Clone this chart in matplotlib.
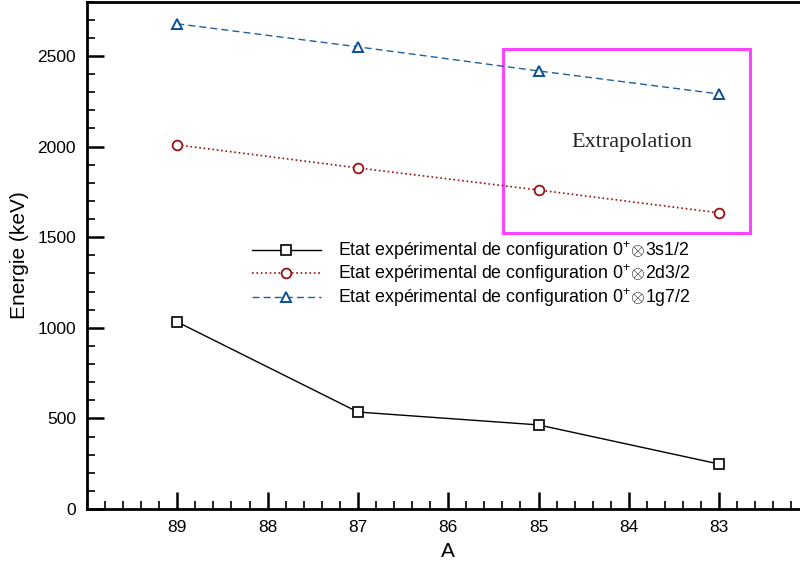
import matplotlib
matplotlib.use("Agg")
import matplotlib.pyplot as plt
from matplotlib.patches import Rectangle
from matplotlib.ticker import MultipleLocator

plt.rcParams['font.family'] = ['Liberation Sans', 'DejaVu Sans']
plt.rcParams['mathtext.fontset'] = 'custom'
plt.rcParams['mathtext.rm'] = 'Liberation Sans'

# data
A = [89, 87, 85, 83]
e_3s12 = [1032, 535, 464, 248]
e_2d32 = [2009, 1882, 1760, 1634]
e_1g72 = [2677, 2550, 2417, 2290]
labels = [r"Etat expérimental de configuration 0$^{+}\!\otimes\!$3s1/2",
          r"Etat expérimental de configuration 0$^{+}\!\otimes\!$2d3/2",
          r"Etat expérimental de configuration 0$^{+}\!\otimes\!$1g7/2"]
box_x = (85.39, 82.66)
box_y = (1523, 2539)

fig = plt.figure(figsize=(8, 5.67), dpi=100)
ax = fig.add_axes([0.10875, 0.1023, 0.903, 0.895])

ax.plot(A, e_3s12, color='black', lw=1, marker='s', ms=6.5, mfc='white',
        mec='black', mew=1.2, label=labels[0])
ax.plot(A, e_2d32, color='#9b1010', lw=1.2, ls=':', marker='o', ms=7, mfc='white',
        mec='#9b1010', mew=1.3, label=labels[1])
ax.plot(A, e_1g72, color='#1f5f9f', lw=1, ls=(0, (5, 3)), marker='^', ms=7, mfc='white',
        mec='#0b4f96', mew=1.4, label=labels[2])

ax.add_patch(Rectangle((box_x[0], box_y[0]), box_x[1] - box_x[0], box_y[1] - box_y[0],
                       fill=False, ec='#ff44ff', lw=2.2))
ax.text(83.97, 2020, "Extrapolation", family='Liberation Serif', fontsize=16,
        ha='center', va='center', color='#222222')

ax.set_xlim(90, 82)
ax.set_ylim(0, 2800)
ax.xaxis.set_major_locator(MultipleLocator(1))
ax.xaxis.set_minor_locator(MultipleLocator(0.2))
ax.yaxis.set_major_locator(MultipleLocator(500))
ax.yaxis.set_minor_locator(MultipleLocator(100))
ax.set_xticks([89, 88, 87, 86, 85, 84, 83])
ax.tick_params(which='major', direction='in', length=12, width=1.8, labelsize=12.5, pad=8)
ax.tick_params(which='minor', direction='in', length=6, width=1.2)
ax.tick_params(top=False, right=False, which='both')
for s in ax.spines.values():
    s.set_linewidth(2)

ax.set_xlabel("A", fontsize=15, labelpad=5)
ax.set_ylabel("Energie (keV)", fontsize=15, labelpad=6)

ax.legend(loc='upper left', bbox_to_anchor=(0.228, 0.532), frameon=False,
          fontsize=12.8, handlelength=3.9, handletextpad=0.95, labelspacing=0.05,
          borderpad=0, borderaxespad=0)

fig.savefig("out.png", dpi=100)
